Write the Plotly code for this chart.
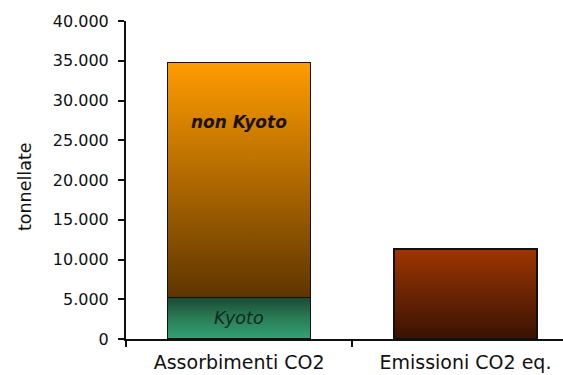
import plotly.graph_objects as go

# Data (tonnellate)
categories = ["Assorbimenti CO2", "Emissioni CO2 eq."]
kyoto = [5200, 0]
non_kyoto = [29600, 0]
emissioni = [0, 11300]
y_ticks = [0, 5000, 10000, 15000, 20000, 25000, 30000, 35000, 40000]

BAR_W = 0.632
FONT = "DejaVu Sans"

fig = go.Figure()


def gradient_block(i, base, value, scale, name):
    """Filled rectangle with a vertical colour gradient covering one bar segment."""
    x0, x1 = i - BAR_W / 2, i + BAR_W / 2
    top = base + value
    fig.add_trace(go.Scatter(
        x=[x0, x1, x1, x0, x0], y=[base, base, top, top, base],
        mode="lines", line=dict(width=0), fill="toself",
        fillgradient=dict(type="vertical", colorscale=scale, start=base, stop=top),
        hoverinfo="skip", showlegend=False, name=name,
        xaxis="x", yaxis="y",
    ))


kyoto_scale = [[0, "#34a274"], [0.5, "#2a7d57"], [1, "#1c4a33"]]
nonk_scale = [[0, "#5e3500"], [0.45, "#a86400"], [1, "#ff9c00"]]
emis_scale = [[0, "#3a1202"], [0.5, "#6a2403"], [1, "#a03500"]]

gradient_block(0, 0, kyoto[0], kyoto_scale, "Kyoto")
gradient_block(0, kyoto[0], non_kyoto[0], nonk_scale, "non Kyoto")
gradient_block(1, 0, emissioni[1], emis_scale, "Emissioni")

# Bar outlines, drawn on an overlaid axis pair so they sit above the gradients
bar_line = dict(color="#111111", width=1.5)
for vals in (kyoto, non_kyoto, emissioni):
    fig.add_trace(go.Bar(x=[0, 1], y=vals, width=BAR_W,
                         marker=dict(color="rgba(0,0,0,0)", line=bar_line),
                         xaxis="x2", yaxis="y2", showlegend=False, hoverinfo="skip"))

X_RANGE = [-0.5, 1.431]
Y_RANGE = [0, 40000]

fig.update_layout(
    width=563, height=375,
    margin=dict(l=126, r=0, t=21, b=36, autoexpand=False),
    paper_bgcolor="white", plot_bgcolor="white",
    barmode="stack",
    separators=",.",
    font=dict(family=FONT, color="#111111"),
    xaxis=dict(
        range=X_RANGE, tickmode="array", tickvals=[0, 1], ticktext=categories,
        ticks="", showgrid=False, zeroline=False, automargin=False,
        showline=True, linecolor="#111111", linewidth=2,
        tickfont=dict(size=19, color="#111111", family=FONT),
        ticklabelstandoff=5,
        minor=dict(tickmode="array", tickvals=[-0.5, 0.5, 1.5], ticks="outside",
                   ticklen=6, tickwidth=1.5, tickcolor="#111111", showgrid=False),
    ),
    yaxis=dict(
        range=Y_RANGE, tickmode="array", tickvals=y_ticks, tickformat=",d",
        ticks="outside", ticklen=6, tickwidth=1.5, tickcolor="#111111",
        showgrid=False, zeroline=False, automargin=False,
        showline=True, linecolor="#111111", linewidth=2,
        tickfont=dict(size=16, color="#111111", family=FONT),
        ticklabelstandoff=6,
    ),
    xaxis2=dict(range=X_RANGE, overlaying="x", visible=False),
    yaxis2=dict(range=Y_RANGE, overlaying="y", visible=False),
)

# Segment labels
fig.add_annotation(x=0, y=27300, xref="x", yref="y", text="<b><i>non Kyoto</i></b>",
                   showarrow=False, font=dict(size=17, color="#1a1205", family=FONT))
fig.add_annotation(x=0, y=kyoto[0] / 2, xref="x", yref="y", text="<i>Kyoto</i>",
                   showarrow=False, font=dict(size=17.5, color="#0f2a1c", family=FONT))

# Y axis title
fig.add_annotation(x=-0.231, y=0.478, xref="paper", yref="paper", text="tonnellate",
                   textangle=-90, showarrow=False, xanchor="center", yanchor="middle",
                   font=dict(size=17.5, color="#111111", family=FONT))

fig.write_html("out.html")
